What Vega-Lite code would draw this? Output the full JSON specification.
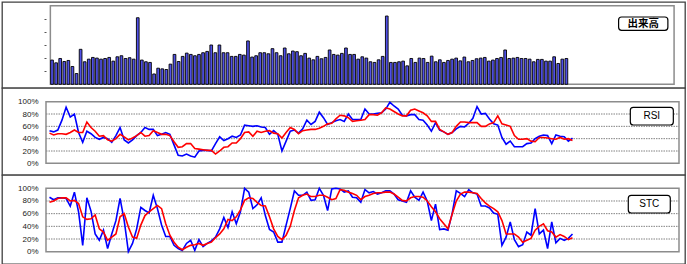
{
"$schema": "https://vega.github.io/schema/vega-lite/v6.json",
"background": "white",
"padding": {"left": 1, "top": 1, "right": 3, "bottom": 1},
"spacing": 0,
"bounds": "flush",
"resolve": {"scale": {"x": "independent", "y": "independent"}, "axis": {"x": "independent", "y": "independent"}},
"config": {
  "view": {"stroke": "#404040", "strokeWidth": 1.3, "fill": "white"},
  "axis": {"domain": false, "grid": false, "ticks": false, "tickSize": 0, "labelFont": "Liberation Sans", "labelFontSize": 8, "labelColor": "#222222", "labelPadding": 8}
},
"datasets": {"d": [
{"i":0,"v":1.85,"rb":53,"rr":49,"sb":86,"sr":78},
{"i":1,"v":1.64,"rb":51,"rr":46,"sb":82,"sr":80},
{"i":2,"v":1.97,"rb":54,"rr":48,"sb":85,"sr":84},
{"i":3,"v":1.74,"rb":70,"rr":48,"sb":85,"sr":85},
{"i":4,"v":1.82,"rb":91,"rr":47,"sb":84,"sr":85},
{"i":5,"v":1.36,"rb":75,"rr":50,"sb":72,"sr":80},
{"i":6,"v":0.82,"rb":80,"rr":54,"sb":94,"sr":81},
{"i":7,"v":2.67,"rb":50,"rr":50,"sb":63,"sr":76},
{"i":8,"v":1.72,"rb":34,"rr":50,"sb":10,"sr":55},
{"i":9,"v":1.92,"rb":52,"rr":67,"sb":85,"sr":51},
{"i":10,"v":2.05,"rb":48,"rr":58,"sb":64,"sr":52},
{"i":11,"v":2.0,"rb":42,"rr":52,"sb":28,"sr":58},
{"i":12,"v":1.92,"rb":39,"rr":44,"sb":18,"sr":36},
{"i":13,"v":1.97,"rb":42,"rr":45,"sb":34,"sr":31},
{"i":14,"v":2.05,"rb":40,"rr":38,"sb":5,"sr":18},
{"i":15,"v":1.77,"rb":34,"rr":36,"sb":28,"sr":23},
{"i":16,"v":2.10,"rb":45,"rr":40,"sb":49,"sr":28},
{"i":17,"v":2.18,"rb":58,"rr":47,"sb":84,"sr":55},
{"i":18,"v":1.97,"rb":38,"rr":43,"sb":49,"sr":60},
{"i":19,"v":2.03,"rb":33,"rr":38,"sb":0,"sr":39},
{"i":20,"v":1.92,"rb":38,"rr":41,"sb":13,"sr":23},
{"i":21,"v":5.08,"rb":45,"rr":45,"sb":36,"sr":21},
{"i":22,"v":1.85,"rb":50,"rr":50,"sb":70,"sr":42},
{"i":23,"v":1.72,"rb":58,"rr":44,"sb":65,"sr":57},
{"i":24,"v":1.67,"rb":55,"rr":45,"sb":61,"sr":63},
{"i":25,"v":0.79,"rb":55,"rr":53,"sb":89,"sr":68},
{"i":26,"v":1.23,"rb":45,"rr":50,"sb":68,"sr":73},
{"i":27,"v":1.18,"rb":47,"rr":47,"sb":42,"sr":68},
{"i":28,"v":1.13,"rb":50,"rr":47,"sb":24,"sr":44},
{"i":29,"v":1.54,"rb":47,"rr":45,"sb":24,"sr":26},
{"i":30,"v":2.28,"rb":30,"rr":35,"sb":10,"sr":15},
{"i":31,"v":1.74,"rb":13,"rr":26,"sb":5,"sr":7},
{"i":32,"v":2.13,"rb":12,"rr":27,"sb":2,"sr":3},
{"i":33,"v":2.38,"rb":15,"rr":32,"sb":13,"sr":7},
{"i":34,"v":2.28,"rb":12,"rr":32,"sb":18,"sr":10},
{"i":35,"v":2.18,"rb":10,"rr":24,"sb":2,"sr":11},
{"i":36,"v":2.28,"rb":20,"rr":23,"sb":19,"sr":13},
{"i":37,"v":2.41,"rb":21,"rr":22,"sb":8,"sr":10},
{"i":38,"v":2.51,"rb":21,"rr":21,"sb":13,"sr":13},
{"i":39,"v":3.0,"rb":20,"rr":21,"sb":17,"sr":15},
{"i":40,"v":2.41,"rb":32,"rr":15,"sb":23,"sr":22},
{"i":41,"v":3.0,"rb":43,"rr":20,"sb":36,"sr":28},
{"i":42,"v":2.41,"rb":37,"rr":26,"sb":54,"sr":36},
{"i":43,"v":2.41,"rb":40,"rr":27,"sb":38,"sr":51},
{"i":44,"v":2.13,"rb":44,"rr":33,"sb":63,"sr":49},
{"i":45,"v":2.13,"rb":42,"rr":33,"sb":44,"sr":55},
{"i":46,"v":2.28,"rb":46,"rr":40,"sb":63,"sr":66},
{"i":47,"v":2.23,"rb":62,"rr":50,"sb":100,"sr":81},
{"i":48,"v":3.31,"rb":61,"rr":51,"sb":94,"sr":85},
{"i":49,"v":2.08,"rb":60,"rr":44,"sb":68,"sr":84},
{"i":50,"v":2.18,"rb":61,"rr":52,"sb":74,"sr":78},
{"i":51,"v":2.41,"rb":59,"rr":50,"sb":85,"sr":73},
{"i":52,"v":2.41,"rb":58,"rr":52,"sb":57,"sr":72},
{"i":53,"v":2.33,"rb":47,"rr":53,"sb":35,"sr":55},
{"i":54,"v":2.72,"rb":53,"rr":49,"sb":31,"sr":36},
{"i":55,"v":2.41,"rb":47,"rr":48,"sb":15,"sr":24},
{"i":56,"v":2.18,"rb":20,"rr":41,"sb":15,"sr":19},
{"i":57,"v":2.77,"rb":36,"rr":50,"sb":42,"sr":26},
{"i":58,"v":2.33,"rb":52,"rr":58,"sb":68,"sr":40},
{"i":59,"v":2.54,"rb":54,"rr":55,"sb":96,"sr":65},
{"i":60,"v":2.49,"rb":49,"rr":48,"sb":89,"sr":85},
{"i":61,"v":2.18,"rb":56,"rr":53,"sb":89,"sr":89},
{"i":62,"v":2.36,"rb":70,"rr":54,"sb":94,"sr":91},
{"i":63,"v":2.0,"rb":63,"rr":55,"sb":81,"sr":87},
{"i":64,"v":1.87,"rb":68,"rr":55,"sb":82,"sr":87},
{"i":65,"v":2.13,"rb":83,"rr":57,"sb":100,"sr":89},
{"i":66,"v":1.95,"rb":74,"rr":60,"sb":89,"sr":89},
{"i":67,"v":2.05,"rb":63,"rr":64,"sb":65,"sr":86},
{"i":68,"v":2.62,"rb":66,"rr":65,"sb":99,"sr":82},
{"i":69,"v":2.28,"rb":69,"rr":72,"sb":100,"sr":84},
{"i":70,"v":2.23,"rb":71,"rr":78,"sb":99,"sr":98},
{"i":71,"v":2.36,"rb":68,"rr":77,"sb":94,"sr":97},
{"i":72,"v":2.77,"rb":80,"rr":74,"sb":96,"sr":94},
{"i":73,"v":2.28,"rb":71,"rr":68,"sb":86,"sr":92},
{"i":74,"v":2.28,"rb":71,"rr":69,"sb":85,"sr":89},
{"i":75,"v":1.92,"rb":71,"rr":70,"sb":78,"sr":82},
{"i":76,"v":2.10,"rb":88,"rr":71,"sb":98,"sr":87},
{"i":77,"v":2.0,"rb":80,"rr":79,"sb":93,"sr":89},
{"i":78,"v":1.72,"rb":80,"rr":79,"sb":95,"sr":92},
{"i":79,"v":1.67,"rb":81,"rr":78,"sb":91,"sr":93},
{"i":80,"v":1.87,"rb":82,"rr":82,"sb":93,"sr":93},
{"i":81,"v":2.13,"rb":88,"rr":90,"sb":96,"sr":94},
{"i":82,"v":5.21,"rb":99,"rr":88,"sb":96,"sr":94},
{"i":83,"v":1.67,"rb":93,"rr":84,"sb":91,"sr":91},
{"i":84,"v":1.67,"rb":88,"rr":80,"sb":82,"sr":86},
{"i":85,"v":1.72,"rb":78,"rr":77,"sb":80,"sr":81},
{"i":86,"v":1.77,"rb":77,"rr":77,"sb":78,"sr":80},
{"i":87,"v":1.41,"rb":79,"rr":86,"sb":96,"sr":85},
{"i":88,"v":1.97,"rb":79,"rr":88,"sb":86,"sr":87},
{"i":89,"v":1.67,"rb":71,"rr":85,"sb":81,"sr":87},
{"i":90,"v":2.0,"rb":70,"rr":82,"sb":94,"sr":86},
{"i":91,"v":1.97,"rb":62,"rr":77,"sb":80,"sr":80},
{"i":92,"v":1.67,"rb":52,"rr":68,"sb":49,"sr":71},
{"i":93,"v":2.15,"rb":66,"rr":68,"sb":75,"sr":63},
{"i":94,"v":1.72,"rb":54,"rr":55,"sb":35,"sr":52},
{"i":95,"v":1.87,"rb":51,"rr":51,"sb":36,"sr":44},
{"i":96,"v":1.67,"rb":47,"rr":47,"sb":34,"sr":36},
{"i":97,"v":1.82,"rb":50,"rr":50,"sb":60,"sr":59},
{"i":98,"v":1.92,"rb":56,"rr":60,"sb":96,"sr":80},
{"i":99,"v":2.0,"rb":60,"rr":67,"sb":92,"sr":91},
{"i":100,"v":1.79,"rb":59,"rr":67,"sb":87,"sr":94},
{"i":101,"v":2.08,"rb":65,"rr":66,"sb":98,"sr":94},
{"i":102,"v":1.72,"rb":73,"rr":66,"sb":93,"sr":93},
{"i":103,"v":1.82,"rb":92,"rr":66,"sb":91,"sr":92},
{"i":104,"v":1.95,"rb":80,"rr":60,"sb":72,"sr":84},
{"i":105,"v":2.0,"rb":81,"rr":60,"sb":72,"sr":77},
{"i":106,"v":2.05,"rb":72,"rr":64,"sb":69,"sr":72},
{"i":107,"v":1.77,"rb":64,"rr":66,"sb":61,"sr":68},
{"i":108,"v":1.85,"rb":62,"rr":77,"sb":59,"sr":63},
{"i":109,"v":1.97,"rb":42,"rr":64,"sb":10,"sr":49},
{"i":110,"v":2.05,"rb":31,"rr":62,"sb":23,"sr":28},
{"i":111,"v":2.62,"rb":36,"rr":60,"sb":47,"sr":28},
{"i":112,"v":1.97,"rb":27,"rr":45,"sb":19,"sr":28},
{"i":113,"v":2.0,"rb":27,"rr":39,"sb":8,"sr":23},
{"i":114,"v":2.05,"rb":27,"rr":39,"sb":11,"sr":15},
{"i":115,"v":1.97,"rb":32,"rr":40,"sb":31,"sr":18},
{"i":116,"v":1.97,"rb":33,"rr":36,"sb":26,"sr":21},
{"i":117,"v":1.92,"rb":40,"rr":35,"sb":68,"sr":34},
{"i":118,"v":1.72,"rb":44,"rr":42,"sb":28,"sr":40},
{"i":119,"v":1.90,"rb":46,"rr":42,"sb":34,"sr":44},
{"i":120,"v":1.90,"rb":45,"rr":41,"sb":5,"sr":33},
{"i":121,"v":1.77,"rb":32,"rr":40,"sb":47,"sr":31},
{"i":122,"v":1.77,"rb":46,"rr":39,"sb":14,"sr":23},
{"i":123,"v":2.10,"rb":44,"rr":42,"sb":21,"sr":27},
{"i":124,"v":1.59,"rb":43,"rr":39,"sb":18,"sr":24},
{"i":125,"v":1.92,"rb":36,"rr":40,"sb":21,"sr":19},
{"i":126,"v":1.97,"rb":41,"rr":37,"sb":28,"sr":22}
]},
"vconcat": [
{
  "width": 683, "height": 86,
  "data": {"name": "d"},
  "layer": [
    {"data": {"values": [{}]},
     "mark": {"type": "rect", "filled": false, "color": "#8c8c8c", "strokeWidth": 1.5},
     "encoding": {
       "x": {"datum": -0.41, "type": "quantitative", "scale": {"domain": [-11.031, 153.83], "nice": false, "zero": false}, "axis": null},
       "x2": {"datum": 152.38},
       "y": {"datum": 0, "type": "quantitative", "scale": {"domain": [-0.282, 6.282], "nice": false, "zero": false}, "axis": {"orient": "left", "offset": -44, "values": [1,2,3,4,5], "labels": false, "ticks": true, "tickSize": 2, "tickColor": "#555555", "title": null}},
       "y2": {"datum": 6}
     }},
    {"mark": {"type": "bar", "fill": "#5050e8", "stroke": "#000000", "strokeWidth": 0.9, "size": 2.7},
     "encoding": {
       "x": {"field": "i", "type": "quantitative", "scale": {"domain": [-11.031, 153.83], "nice": false, "zero": false}, "axis": null},
       "y": {"field": "v", "type": "quantitative", "scale": {"domain": [-0.282, 6.282], "nice": false, "zero": false}, "axis": {"orient": "left", "offset": -44, "values": [1,2,3,4,5], "labels": false, "ticks": true, "tickSize": 2, "tickColor": "#555555", "title": null}},
       "y2": {"datum": 0}
     }},
    {"data": {"values": [{}]},
     "mark": {"type": "rect", "fill": "white", "stroke": "#000000", "strokeWidth": 1.2, "cornerRadius": 3},
     "encoding": {
       "x": {"datum": 138.79, "type": "quantitative", "scale": {"domain": [-11.031, 153.83], "nice": false, "zero": false}, "axis": null},
       "x2": {"datum": 150.86},
       "y": {"datum": 5.137, "type": "quantitative", "scale": {"domain": [-0.282, 6.282], "nice": false, "zero": false}, "axis": {"orient": "left", "offset": -44, "values": [1,2,3,4,5], "labels": false, "ticks": true, "tickSize": 2, "tickColor": "#555555", "title": null}},
       "y2": {"datum": 4.122}
     }},
    {"data": {"values": [{}]},
     "mark": {"type": "text", "text": "出来高", "font": "Noto Sans CJK JP", "fontSize": 10.5, "fontWeight": "bold", "color": "#000000", "align": "center", "baseline": "middle"},
     "encoding": {
       "x": {"datum": 144.8, "type": "quantitative", "scale": {"domain": [-11.031, 153.83], "nice": false, "zero": false}, "axis": null},
       "y": {"datum": 4.63, "type": "quantitative", "scale": {"domain": [-0.282, 6.282], "nice": false, "zero": false}, "axis": {"orient": "left", "offset": -44, "values": [1,2,3,4,5], "labels": false, "ticks": true, "tickSize": 2, "tickColor": "#555555", "title": null}}
     }}
  ]
},
{
  "width": 683, "height": 87,
  "data": {"name": "d"},
  "layer": [
    {"data": {"values": [{}]},
     "mark": {"type": "rule", "color": "#808080", "strokeWidth": 1, "strokeDash": [1.5, 1]},
     "encoding": {
       "x": {"datum": -0.844, "type": "quantitative", "scale": {"domain": [-11.444, 153.103], "nice": false, "zero": false}, "axis": null},
       "x2": {"datum": 151.657},
       "y": {"datum": 20, "type": "quantitative", "scale": {"domain": [-18.92, 122.17], "nice": false, "zero": false}, "axis": {"orient": "left", "offset": -44, "values": [0,20,40,60,80,100], "labelExpr": "datum.value + '%'", "title": null}}
     }},
    {"data": {"values": [{}]},
     "mark": {"type": "rule", "color": "#808080", "strokeWidth": 1, "strokeDash": [1.5, 1]},
     "encoding": {
       "x": {"datum": -0.844, "type": "quantitative", "scale": {"domain": [-11.444, 153.103], "nice": false, "zero": false}, "axis": null},
       "x2": {"datum": 151.657},
       "y": {"datum": 40, "type": "quantitative", "scale": {"domain": [-18.92, 122.17], "nice": false, "zero": false}, "axis": {"orient": "left", "offset": -44, "values": [0,20,40,60,80,100], "labelExpr": "datum.value + '%'", "title": null}}
     }},
    {"data": {"values": [{}]},
     "mark": {"type": "rule", "color": "#808080", "strokeWidth": 1, "strokeDash": [1.5, 1]},
     "encoding": {
       "x": {"datum": -0.844, "type": "quantitative", "scale": {"domain": [-11.444, 153.103], "nice": false, "zero": false}, "axis": null},
       "x2": {"datum": 151.657},
       "y": {"datum": 60, "type": "quantitative", "scale": {"domain": [-18.92, 122.17], "nice": false, "zero": false}, "axis": {"orient": "left", "offset": -44, "values": [0,20,40,60,80,100], "labelExpr": "datum.value + '%'", "title": null}}
     }},
    {"data": {"values": [{}]},
     "mark": {"type": "rule", "color": "#808080", "strokeWidth": 1, "strokeDash": [1.5, 1]},
     "encoding": {
       "x": {"datum": -0.844, "type": "quantitative", "scale": {"domain": [-11.444, 153.103], "nice": false, "zero": false}, "axis": null},
       "x2": {"datum": 151.657},
       "y": {"datum": 80, "type": "quantitative", "scale": {"domain": [-18.92, 122.17], "nice": false, "zero": false}, "axis": {"orient": "left", "offset": -44, "values": [0,20,40,60,80,100], "labelExpr": "datum.value + '%'", "title": null}}
     }},
    {"data": {"values": [{}]},
     "mark": {"type": "rect", "filled": false, "color": "#8c8c8c", "strokeWidth": 1.5},
     "encoding": {
       "x": {"datum": -0.844, "type": "quantitative", "scale": {"domain": [-11.444, 153.103], "nice": false, "zero": false}, "axis": null},
       "x2": {"datum": 151.657},
       "y": {"datum": 0, "type": "quantitative", "scale": {"domain": [-18.92, 122.17], "nice": false, "zero": false}, "axis": {"orient": "left", "offset": -44, "values": [0,20,40,60,80,100], "labelExpr": "datum.value + '%'", "title": null}},
       "y2": {"datum": 100}
     }},
    {"mark": {"type": "line", "color": "#0000ff", "strokeWidth": 1.6},
     "encoding": {
       "x": {"field": "i", "type": "quantitative", "scale": {"domain": [-11.444, 153.103], "nice": false, "zero": false}, "axis": null},
       "y": {"field": "rb", "type": "quantitative", "scale": {"domain": [-18.92, 122.17], "nice": false, "zero": false}, "axis": {"orient": "left", "offset": -44, "values": [0,20,40,60,80,100], "labelExpr": "datum.value + '%'", "title": null}}
     }},
    {"mark": {"type": "line", "color": "#ff0000", "strokeWidth": 1.6},
     "encoding": {
       "x": {"field": "i", "type": "quantitative", "scale": {"domain": [-11.444, 153.103], "nice": false, "zero": false}, "axis": null},
       "y": {"field": "rr", "type": "quantitative", "scale": {"domain": [-18.92, 122.17], "nice": false, "zero": false}, "axis": {"orient": "left", "offset": -44, "values": [0,20,40,60,80,100], "labelExpr": "datum.value + '%'", "title": null}}
     }},
    {"data": {"values": [{}]},
     "mark": {"type": "rect", "fill": "white", "stroke": "#000000", "strokeWidth": 1.2, "cornerRadius": 3},
     "encoding": {
       "x": {"datum": 139.93, "type": "quantitative", "scale": {"domain": [-11.444, 153.103], "nice": false, "zero": false}, "axis": null},
       "x2": {"datum": 150.29},
       "y": {"datum": 90.87, "type": "quantitative", "scale": {"domain": [-18.92, 122.17], "nice": false, "zero": false}, "axis": {"orient": "left", "offset": -44, "values": [0,20,40,60,80,100], "labelExpr": "datum.value + '%'", "title": null}},
       "y2": {"datum": 62.17}
     }},
    {"data": {"values": [{}]},
     "mark": {"type": "text", "text": "RSI", "font": "Liberation Sans", "fontSize": 10, "color": "#000000", "align": "center", "baseline": "middle"},
     "encoding": {
       "x": {"datum": 145.1, "type": "quantitative", "scale": {"domain": [-11.444, 153.103], "nice": false, "zero": false}, "axis": null},
       "y": {"datum": 76.5, "type": "quantitative", "scale": {"domain": [-18.92, 122.17], "nice": false, "zero": false}, "axis": {"orient": "left", "offset": -44, "values": [0,20,40,60,80,100], "labelExpr": "datum.value + '%'", "title": null}}
     }}
  ]
},
{
  "width": 683, "height": 89,
  "data": {"name": "d"},
  "layer": [
    {"data": {"values": [{}]},
     "mark": {"type": "rule", "color": "#808080", "strokeWidth": 1, "strokeDash": [1.5, 1]},
     "encoding": {
       "x": {"datum": -0.844, "type": "quantitative", "scale": {"domain": [-11.444, 153.103], "nice": false, "zero": false}, "axis": null},
       "x2": {"datum": 151.657},
       "y": {"datum": 20, "type": "quantitative", "scale": {"domain": [-19.47, 121.05], "nice": false, "zero": false}, "axis": {"orient": "left", "offset": -44, "values": [0,20,40,60,80,100], "labelExpr": "datum.value + '%'", "title": null}}
     }},
    {"data": {"values": [{}]},
     "mark": {"type": "rule", "color": "#808080", "strokeWidth": 1, "strokeDash": [1.5, 1]},
     "encoding": {
       "x": {"datum": -0.844, "type": "quantitative", "scale": {"domain": [-11.444, 153.103], "nice": false, "zero": false}, "axis": null},
       "x2": {"datum": 151.657},
       "y": {"datum": 40, "type": "quantitative", "scale": {"domain": [-19.47, 121.05], "nice": false, "zero": false}, "axis": {"orient": "left", "offset": -44, "values": [0,20,40,60,80,100], "labelExpr": "datum.value + '%'", "title": null}}
     }},
    {"data": {"values": [{}]},
     "mark": {"type": "rule", "color": "#808080", "strokeWidth": 1, "strokeDash": [1.5, 1]},
     "encoding": {
       "x": {"datum": -0.844, "type": "quantitative", "scale": {"domain": [-11.444, 153.103], "nice": false, "zero": false}, "axis": null},
       "x2": {"datum": 151.657},
       "y": {"datum": 60, "type": "quantitative", "scale": {"domain": [-19.47, 121.05], "nice": false, "zero": false}, "axis": {"orient": "left", "offset": -44, "values": [0,20,40,60,80,100], "labelExpr": "datum.value + '%'", "title": null}}
     }},
    {"data": {"values": [{}]},
     "mark": {"type": "rule", "color": "#808080", "strokeWidth": 1, "strokeDash": [1.5, 1]},
     "encoding": {
       "x": {"datum": -0.844, "type": "quantitative", "scale": {"domain": [-11.444, 153.103], "nice": false, "zero": false}, "axis": null},
       "x2": {"datum": 151.657},
       "y": {"datum": 80, "type": "quantitative", "scale": {"domain": [-19.47, 121.05], "nice": false, "zero": false}, "axis": {"orient": "left", "offset": -44, "values": [0,20,40,60,80,100], "labelExpr": "datum.value + '%'", "title": null}}
     }},
    {"data": {"values": [{}]},
     "mark": {"type": "rect", "filled": false, "color": "#8c8c8c", "strokeWidth": 1.5},
     "encoding": {
       "x": {"datum": -0.844, "type": "quantitative", "scale": {"domain": [-11.444, 153.103], "nice": false, "zero": false}, "axis": null},
       "x2": {"datum": 151.657},
       "y": {"datum": 0, "type": "quantitative", "scale": {"domain": [-19.47, 121.05], "nice": false, "zero": false}, "axis": {"orient": "left", "offset": -44, "values": [0,20,40,60,80,100], "labelExpr": "datum.value + '%'", "title": null}},
       "y2": {"datum": 100}
     }},
    {"mark": {"type": "line", "color": "#0000ff", "strokeWidth": 1.6},
     "encoding": {
       "x": {"field": "i", "type": "quantitative", "scale": {"domain": [-11.444, 153.103], "nice": false, "zero": false}, "axis": null},
       "y": {"field": "sb", "type": "quantitative", "scale": {"domain": [-19.47, 121.05], "nice": false, "zero": false}, "axis": {"orient": "left", "offset": -44, "values": [0,20,40,60,80,100], "labelExpr": "datum.value + '%'", "title": null}}
     }},
    {"mark": {"type": "line", "color": "#ff0000", "strokeWidth": 1.6},
     "encoding": {
       "x": {"field": "i", "type": "quantitative", "scale": {"domain": [-11.444, 153.103], "nice": false, "zero": false}, "axis": null},
       "y": {"field": "sr", "type": "quantitative", "scale": {"domain": [-19.47, 121.05], "nice": false, "zero": false}, "axis": {"orient": "left", "offset": -44, "values": [0,20,40,60,80,100], "labelExpr": "datum.value + '%'", "title": null}}
     }},
    {"data": {"values": [{}]},
     "mark": {"type": "rect", "fill": "white", "stroke": "#000000", "strokeWidth": 1.2, "cornerRadius": 3},
     "encoding": {
       "x": {"datum": 139.44, "type": "quantitative", "scale": {"domain": [-11.444, 153.103], "nice": false, "zero": false}, "axis": null},
       "x2": {"datum": 149.56},
       "y": {"datum": 89.0, "type": "quantitative", "scale": {"domain": [-19.47, 121.05], "nice": false, "zero": false}, "axis": {"orient": "left", "offset": -44, "values": [0,20,40,60,80,100], "labelExpr": "datum.value + '%'", "title": null}},
       "y2": {"datum": 61.05}
     }},
    {"data": {"values": [{}]},
     "mark": {"type": "text", "text": "STC", "font": "Liberation Sans", "fontSize": 10, "color": "#000000", "align": "center", "baseline": "middle"},
     "encoding": {
       "x": {"datum": 144.5, "type": "quantitative", "scale": {"domain": [-11.444, 153.103], "nice": false, "zero": false}, "axis": null},
       "y": {"datum": 75.0, "type": "quantitative", "scale": {"domain": [-19.47, 121.05], "nice": false, "zero": false}, "axis": {"orient": "left", "offset": -44, "values": [0,20,40,60,80,100], "labelExpr": "datum.value + '%'", "title": null}}
     }}
  ]
}
]
}
